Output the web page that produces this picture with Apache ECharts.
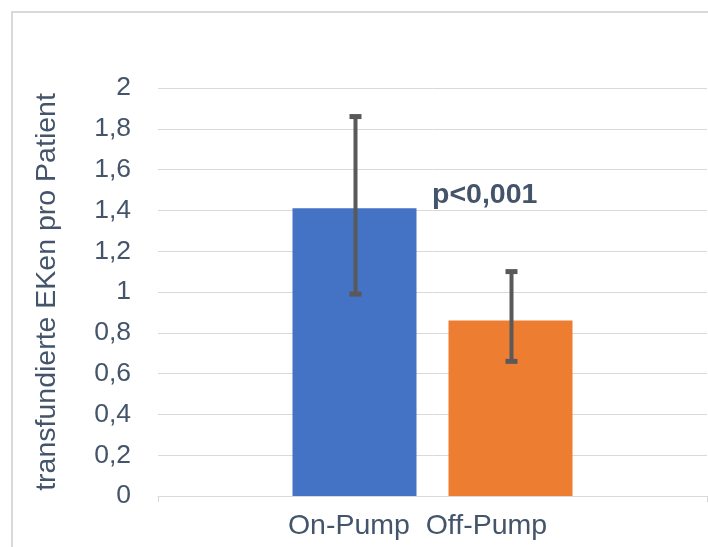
<!DOCTYPE html>
<html>
<head>
<meta charset="utf-8">
<script src="https://cdn.jsdelivr.net/npm/echarts@6/dist/echarts.min.js"></script>
<style>
html,body{margin:0;padding:0;background:#fff;}
#c{width:708px;height:547px;}
</style>
</head>
<body>
<div id="c"></div>
<script>
var categories = ['On-Pump  Off-Pump'];
var seriesNames = ['On-Pump', 'Off-Pump'];
var means = [1.41, 0.86];
var errLow = [0.99, 0.66];
var errHigh = [1.86, 1.10];
var yTicks = [0, 0.2, 0.4, 0.6, 0.8, 1, 1.2, 1.4, 1.6, 1.8, 2];
var yTitle = 'transfundierte EKen pro Patient';
var pText = 'p<0,001';

var FONT = '"Liberation Sans", Arial, sans-serif';
var TXT = '#44546A';
var colors = ['#4472C4', '#ED7D31'];
var BAR_W = 124, BAR_GAP = 32;

var chart = echarts.init(document.getElementById('c'), null, {renderer: 'canvas'});

var barSeries = seriesNames.map(function (n, i) {
  return {
    name: n, type: 'bar', data: [means[i]],
    barWidth: BAR_W, barGap: (BAR_GAP / BAR_W * 100) + '%',
    itemStyle: {color: colors[i]}, silent: true
  };
});

var errData = seriesNames.map(function (n, i) { return [0, errLow[i], errHigh[i], i]; });

var option = {
  animation: false,
  textStyle: {fontFamily: FONT},
  grid: {left: 158, right: 1, top: 88, bottom: 51, containLabel: false},
  xAxis: {
    type: 'category', data: categories,
    axisLine: {lineStyle: {color: '#D9D9D9', width: 1}},
    axisTick: {show: true, length: 6, lineStyle: {color: '#D9D9D9'}},
    axisLabel: {color: TXT, fontSize: 28.5, fontFamily: FONT, margin: 16, padding: [0, 30, 0, 0]}
  },
  yAxis: {
    type: 'value', min: 0, max: 2, interval: 0.2,
    name: yTitle, nameLocation: 'middle', nameRotate: 90, nameGap: 96,
    nameTextStyle: {color: TXT, fontSize: 28.5, fontFamily: FONT},
    axisLine: {show: false}, axisTick: {show: false},
    splitLine: {lineStyle: {color: '#D9D9D9', width: 1}},
    axisLabel: {
      color: TXT, fontSize: 26.5, fontFamily: FONT, margin: 27,
      formatter: function (v) {
        var r = Math.round(v * 10) / 10;
        return String(r).replace('.', ',');
      }
    }
  },
  series: barSeries.concat([{
    type: 'custom', data: errData, z: 10, silent: true,
    renderItem: function (params, api) {
      var idx = api.value(3);
      var off = (idx === 0 ? -1 : 1) * (BAR_W + BAR_GAP) / 2;
      var lo = api.coord([api.value(0), api.value(1)]);
      var hi = api.coord([api.value(0), api.value(2)]);
      var x = Math.round(lo[0] + off) + 0.5;
      var cap = 6;
      var st = {stroke: '#595959', lineWidth: 4};
      return {
        type: 'group',
        children: [
          {type: 'line', shape: {x1: x, y1: hi[1], x2: x, y2: lo[1]}, style: st},
          {type: 'line', shape: {x1: x - cap, y1: hi[1], x2: x + cap, y2: hi[1]}, style: {stroke: '#595959', lineWidth: 5}},
          {type: 'line', shape: {x1: x - cap, y1: lo[1], x2: x + cap, y2: lo[1]}, style: {stroke: '#595959', lineWidth: 5}}
        ]
      };
    }
  }]),
  graphic: [
    {type: 'rect', shape: {x: 12, y: 12, width: 900, height: 900}, style: {fill: 'none', stroke: '#D9D9D9', lineWidth: 2}, z: -1, silent: true},
    {type: 'text', left: 432, top: 181, style: {text: pText, fill: TXT, font: 'bold 28.5px ' + FONT}, silent: true}
  ]
};
chart.setOption(option);
</script>
</body>
</html>
